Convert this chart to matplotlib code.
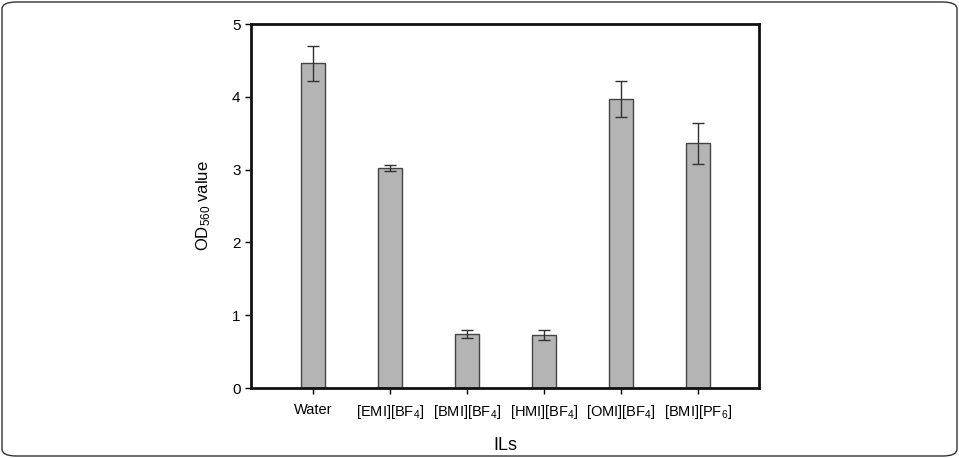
import matplotlib
matplotlib.use("Agg")
import matplotlib.pyplot as plt
from matplotlib.patches import FancyBboxPatch

categories = ["Water", "[EMI][BF$_4$]", "[BMI][BF$_4$]", "[HMI][BF$_4$]", "[OMI][BF$_4$]", "[BMI][PF$_6$]"]
values = [4.46, 3.02, 0.74, 0.73, 3.97, 3.36]
errors = [0.24, 0.04, 0.05, 0.07, 0.25, 0.28]
yticks = [0, 1, 2, 3, 4, 5]

plt.rcParams['font.family'] = ['Liberation Sans', 'DejaVu Sans']
plt.rcParams['mathtext.fontset'] = 'custom'
plt.rcParams['mathtext.rm'] = 'Liberation Sans'
plt.rcParams['mathtext.it'] = 'Liberation Sans'

fig = plt.figure(figsize=(9.59, 4.58), dpi=100)
W, H = 959, 458
ax = fig.add_axes([251 / W, 1 - 388 / H, (759 - 251) / W, (388 - 24) / H])

x = list(range(len(categories)))
ax.bar(x, values, width=0.32, color="#b4b4b4", edgecolor="#444444", linewidth=1.0, zorder=2)
ax.errorbar(x, values, yerr=errors, fmt="none", ecolor="#333333", elinewidth=1.0, capsize=4, capthick=1.0, zorder=3)

ax.set_xlim(-0.805, 5.79)
ax.set_ylim(0, 5)
ax.set_yticks(yticks)
ax.set_xticks(x)
ax.set_xticklabels(categories, fontsize=10.5)
ax.tick_params(axis='y', labelsize=11, direction='out', length=4, width=1)
ax.tick_params(axis='x', direction='out', length=4, width=1, pad=7)
for s in ax.spines.values():
    s.set_linewidth(2.0)
    s.set_color("#111111")

ax.set_ylabel("OD$_{560}$ value", fontsize=12, labelpad=14)
ax.set_xlabel("ILs", fontsize=13, labelpad=11)

border = FancyBboxPatch((2 / W, 2 / H), (W - 4) / W, (H - 4) / H,
                        boxstyle="round,pad=0,rounding_size=0.015",
                        transform=fig.transFigure, fill=False,
                        edgecolor="#333333", linewidth=1.0)
fig.patches.append(border)

fig.savefig("out.png", dpi=100)
